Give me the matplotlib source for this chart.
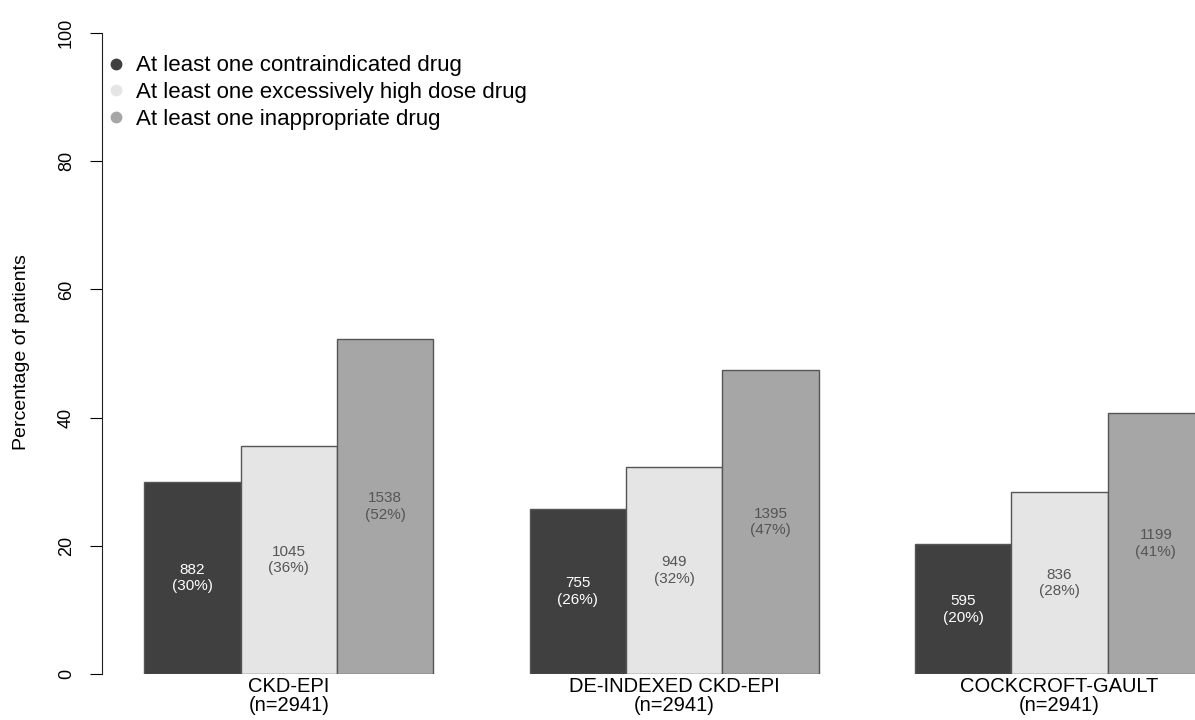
import matplotlib.pyplot as plt
import numpy as np
from matplotlib.lines import Line2D

# Data
methods = ['CKD-EPI', 'DE-INDEXED CKD-EPI', 'COCKCROFT-GAULT']
n_total = 2941
series = ['At least one contraindicated drug',
          'At least one excessively high dose drug',
          'At least one inappropriate drug']
contraindicated = [882, 755, 595]
high_dose = [1045, 949, 836]
inappropriate = [1538, 1395, 1199]

colors = ['#404040', '#E5E5E5', '#A6A6A6']
label_colors = ['white', '#555555', '#555555']

plt.rcParams['font.family'] = ['Liberation Sans', 'DejaVu Sans']

fig = plt.figure(figsize=(11.95, 7.2), dpi=100)
# plot region in pixels: left 102, right 1195, top 33, bottom 674
ax = fig.add_axes([102 / 1195, 46 / 720, 1093 / 1195, 641 / 720])

counts = [contraindicated, high_dose, inappropriate]
x_groups = np.arange(len(methods)) * 4 + 1  # R-style: bars width 1, gap 1

for j, vals in enumerate(counts):
    pct = np.array(vals) / n_total * 100
    xs = x_groups + j
    ax.bar(xs, pct, width=1, align='edge', color=colors[j],
           edgecolor='#555555', linewidth=1)
    for x, p, v in zip(xs, pct, vals):
        ax.text(x + 0.5, p / 2, f'{v}\n({p:.0f}%)', ha='center', va='center',
                fontsize=11, color=label_colors[j], linespacing=1.25)

ax.set_xlim(0.561, 11.906)
ax.set_ylim(0, 100)

for s in ['top', 'right', 'bottom']:
    ax.spines[s].set_visible(False)
ax.spines['left'].set_color('#222222')

ax.set_yticks(np.arange(0, 101, 20))
ax.set_yticklabels([str(t) for t in range(0, 101, 20)], rotation=90, va='center')
ax.tick_params(axis='y', length=8.5, labelsize=13, pad=11)
ax.set_ylabel('Percentage of patients', fontsize=14)
ax.yaxis.set_label_coords(-80 / 1093, (674 - 352) / 641)
ax.yaxis.label.set_verticalalignment('center')

ax.set_xticks(x_groups + 1.5)
ax.set_xticklabels([f'{m}\n(n={n_total})' for m in methods], fontsize=14.5,
                   linespacing=1.0)
ax.tick_params(axis='x', length=0, pad=2)

handles = [Line2D([], [], marker='o', linestyle='', markersize=7.5,
                  markerfacecolor=c, markeredgecolor=c) for c in colors]
ax.legend(handles, series, loc='upper left', bbox_to_anchor=(0.0, 0.965),
          frameon=False, fontsize=16, handletextpad=0.27, labelspacing=0.25,
          borderaxespad=0.0, borderpad=0.0, handlelength=1.26)

fig.savefig('out.png', dpi=100, facecolor='white')
